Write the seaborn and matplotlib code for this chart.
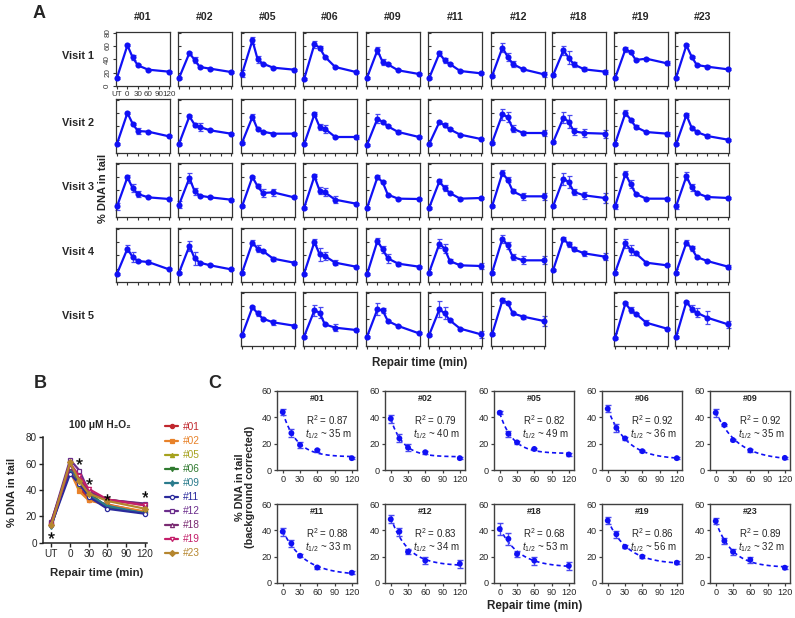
import numpy as np
import pandas as pd
import matplotlib
matplotlib.use("Agg")
import matplotlib.pyplot as plt
import seaborn as sns

# ---------------- data ----------------
SUBJECTS = ['#01', '#02', '#05', '#06', '#09', '#11', '#12', '#18', '#19', '#23']
TIME_LABELS = ['UT', '0', '15', '30', '60', '120']
TIMES = [-30, 0, 15, 30, 60, 120]          # UT is drawn at -30
AXIS_TICKS = [-30, 0, 30, 60, 90, 120]
AXIS_TICK_LABELS = ['UT', '0', '30', '60', '90', '120']

VISIT1 = {
    '#01': [12.6, 61, 43, 31, 24.5, 21.5], '#02': [12, 49.5, 39, 28.5, 26, 21],
    '#05': [18.5, 68.5, 40, 33.5, 27.5, 24.5], '#06': [10, 62.5, 57.5, 44, 28.5, 21],
    '#09': [12.5, 53.5, 36, 32.5, 23.5, 18], '#11': [11.5, 49, 38.5, 33, 22.5, 19],
    '#12': [15, 57.5, 44, 33, 25, 17.5], '#18': [16, 53.5, 42.5, 32.5, 25, 21.5],
    '#19': [11.5, 55, 51, 39, 41, 34], '#23': [12.5, 61, 44, 31.5, 29, 25]}
VISIT1_ERR = {
    '#01': [1.5, 1.5, 4, 1.5, 1.5, 1.5], '#02': [1.5, 1.5, 4, 1.5, 1.5, 1.5],
    '#05': [5, 5, 5, 1.5, 1.5, 1.5], '#06': [1.5, 5, 3, 1.5, 1.5, 1.5],
    '#09': [1.5, 5, 5, 1.5, 1.5, 1.5], '#11': [1.5, 4, 4, 1.5, 1.5, 1.5],
    '#12': [1.5, 7, 6, 4, 1.5, 4], '#18': [1.5, 7, 10, 4, 3, 3],
    '#19': [1.5, 4, 1.5, 1.5, 1.5, 3], '#23': [1.5, 1.5, 1.5, 1.5, 2.5, 1.5]}

VISIT2 = {
    '#01': [14, 60, 44, 33, 32, 25], '#02': [14, 55, 42.5, 39, 34, 29],
    '#05': [15.5, 54, 35.5, 32, 29, 29], '#06': [13, 58, 39, 36.5, 24, 24],
    '#09': [12.5, 51.5, 46.5, 40, 31.5, 24], '#11': [13, 46.5, 41.5, 35.5, 27.5, 21],
    '#12': [15.5, 58, 54, 36.5, 30, 30], '#18': [16, 53, 47, 32.5, 30, 29],
    '#19': [14, 60, 50, 39, 31.5, 29], '#23': [13, 57, 38, 31.5, 25.5, 20]}
VISIT2_ERR = {
    '#01': [1.5, 1.5, 1.5, 4, 1.5, 1.5], '#02': [1.5, 1.5, 3, 6, 1.5, 1.5],
    '#05': [1.5, 4, 1.5, 1.5, 1.5, 1.5], '#06': [1.5, 3, 4, 6, 1.5, 3],
    '#09': [1.5, 7, 1.5, 1.5, 3, 1.5], '#11': [1.5, 1.5, 3, 1.5, 1.5, 1.5],
    '#12': [1.5, 8, 7, 5, 3, 5], '#18': [1.5, 8, 10, 5, 6, 6],
    '#19': [1.5, 4, 1.5, 3, 1.5, 3], '#23': [1.5, 3, 1.5, 1.5, 3, 1.5]}

VISIT3 = {
    '#01': [16, 59.5, 43.5, 34.5, 29.5, 27], '#02': [18.5, 58.5, 38.5, 32, 29.5, 26],
    '#05': [16, 60, 46, 36, 37, 29.5], '#06': [13.5, 61, 39.5, 37, 26, 20],
    '#09': [13.5, 59.5, 52.5, 33.5, 27.5, 27], '#11': [13.5, 53.5, 43.5, 36, 27.5, 28.5],
    '#12': [16, 66, 56, 38.5, 31, 31], '#18': [16, 57.5, 52.5, 37.5, 32.5, 28.5],
    '#19': [16, 64.5, 49.5, 34.5, 27.5, 27.5], '#23': [16, 61, 44.5, 36, 30, 28.5]}
VISIT3_ERR = {
    '#01': [5, 4, 6, 4, 1.5, 1.5], '#02': [5, 7, 5, 1.5, 1.5, 1.5],
    '#05': [1.5, 1.5, 3, 6, 5, 1.5], '#06': [1.5, 4, 5, 6, 5, 1.5],
    '#09': [1.5, 3, 1.5, 1.5, 1.5, 1.5], '#11': [1.5, 4, 4, 1.5, 1.5, 1.5],
    '#12': [1.5, 5, 4, 3, 5, 5], '#18': [1.5, 9, 9, 4, 5, 7],
    '#19': [4, 4, 6, 1.5, 1.5, 1.5], '#23': [4, 6, 5, 1.5, 3, 1.5]}

VISIT4 = {
    '#01': [12.5, 50, 37.5, 31.5, 30, 19], '#02': [14, 54, 35.5, 29, 25, 19],
    '#05': [14, 59, 50, 46.5, 35, 29], '#06': [12.5, 60, 41.5, 39, 29, 23],
    '#09': [11.5, 61.5, 49, 35.5, 27.5, 23], '#11': [14, 57.5, 50, 31.5, 25, 24],
    '#12': [14, 65, 55, 37.5, 32.5, 32.5], '#18': [17.5, 65, 56.5, 49, 43, 38],
    '#19': [14, 58, 48, 43, 29, 25], '#23': [14, 59, 50.5, 37.5, 31.5, 23]}
VISIT4_ERR = {
    '#01': [1.5, 5, 8, 1.5, 3, 1.5], '#02': [1.5, 7, 10, 1.5, 1.5, 1.5],
    '#05': [1.5, 4, 5, 1.5, 3, 1.5], '#06': [1.5, 5, 10, 6, 4, 1.5],
    '#09': [1.5, 4, 5, 7, 3, 1.5], '#11': [1.5, 7, 7, 3, 1.5, 5],
    '#12': [1.5, 6, 5, 4, 6, 6], '#18': [1.5, 3, 4, 3, 4, 5],
    '#19': [1.5, 7, 8, 1.5, 1.5, 1.5], '#23': [1.5, 4, 4, 1.5, 1.5, 3]}

VISIT5 = {
    '#05': [16, 58, 49, 41, 35.5, 30.5], '#06': [14, 53.5, 50, 32.5, 27.5, 24],
    '#09': [14, 55, 53.5, 37.5, 30, 19], '#11': [16, 55, 49, 38.5, 26, 17.5],
    '#12': [17.5, 68.5, 65, 49, 44, 37.5], '#19': [11.5, 64, 54, 48.5, 35, 26],
    '#23': [13.5, 66.5, 56, 50, 42.5, 32.5]}
VISIT5_ERR = {
    '#05': [1.5, 1.5, 4, 1.5, 4, 1.5], '#06': [1.5, 8, 8, 1.5, 5, 1.5],
    '#09': [1.5, 9, 4, 1.5, 1.5, 1.5], '#11': [1.5, 12, 9, 1.5, 1.5, 5],
    '#12': [1.5, 4, 1.5, 1.5, 3, 7], '#19': [1.5, 1.5, 4, 1.5, 4, 1.5],
    '#23': [1.5, 1.5, 5, 7, 10, 5]}

VISIT_LABELS = ['Visit 1', 'Visit 2', 'Visit 3', 'Visit 4', 'Visit 5']

# panel B styling per subject
B_COLORS = ['#c0272d', '#e8822a', '#a6a21e', '#2f7a2f', '#2a7b8c',
            '#2a2a9c', '#6b2d8c', '#7a2b72', '#c41e6a', '#b5862f']
B_MARKERS = ['o', 's', '^', 'v', 'd', 'o', 's', '^', 'v', 'D']
B_FILLED = [True, True, True, True, True, False, False, False, False, True]
STAR_T = [-30, 15, 30, 60, 120]
STAR_Y = [6, 62, 47, 35, 37]

# panel C
C_TIMES = [0, 15, 30, 60, 120]
C_MEAN = {
    '#01': [44, 28, 19, 15, 9], '#02': [39, 24, 17, 13.5, 9],
    '#05': [43.5, 27.5, 21, 16, 11.8], '#06': [46.5, 32, 24, 14.3, 9],
    '#09': [43.5, 34.3, 22.7, 14.9, 9.2], '#11': [39, 30, 20.7, 11.8, 7.8],
    '#12': [48.4, 39, 23.7, 17, 14.6], '#18': [41, 33.5, 22, 17, 13],
    '#19': [47.4, 37, 27.5, 20, 15.4], '#23': [47, 32, 23.7, 17.6, 11.6]}
C_ERR = {
    '#01': [2, 3, 2.5, 1, 1], '#02': [3, 3, 2.5, 1, 1],
    '#05': [1, 2.5, 1, 1, 1], '#06': [2.5, 3, 1, 1, 1],
    '#09': [3, 1, 1, 1, 1], '#11': [3, 3, 1, 1, 1],
    '#12': [3, 3, 2, 2.5, 3], '#18': [4.5, 4.5, 2.5, 3, 3],
    '#19': [2.5, 2.5, 1, 1, 1], '#23': [2, 2.5, 2.5, 2.5, 1]}
C_R2 = ['0.87', '0.79', '0.82', '0.92', '0.92', '0.88', '0.83', '0.68', '0.86', '0.89']
C_THALF = ['35', '40', '49', '36', '35', '33', '34', '53', '56', '32']

# ---------------- style ----------------
sns.set_style('ticks')
plt.rcParams['font.family'] = ['Liberation Sans', 'DejaVu Sans']
plt.rcParams['mathtext.fontset'] = 'custom'
plt.rcParams['mathtext.rm'] = 'Liberation Sans'
plt.rcParams['mathtext.it'] = 'Liberation Sans:italic'
plt.rcParams['mathtext.bf'] = 'Liberation Sans:bold'

BLUE = '#1010f5'
EBLUE = '#4a4af0'
SPINE = '#333333'

W, H = 795, 618
fig = plt.figure(figsize=(W / 100, H / 100), dpi=100)
fig.patch.set_facecolor('white')


def add_ax(l, t, w, h):
    return fig.add_axes([l / W, 1 - (t + h) / H, w / W, h / H])


def ftext(x, y, s, **kw):
    fig.text(x / W, 1 - y / H, s, **kw)


# ---------------- Panel A ----------------
A_COL_LEFT = [116, 178, 241, 303, 366, 428, 491, 552, 614, 675]
A_ROW_TOP = [32, 99, 163, 228, 292]
A_W, A_H = 54, 54
visits = [(VISIT1, VISIT1_ERR), (VISIT2, VISIT2_ERR), (VISIT3, VISIT3_ERR),
          (VISIT4, VISIT4_ERR), (VISIT5, VISIT5_ERR)]

for r, (vm, ve) in enumerate(visits):
    for c, s in enumerate(SUBJECTS):
        if s not in vm:
            continue
        ax = add_ax(A_COL_LEFT[c], A_ROW_TOP[r], A_W, A_H)
        df = pd.DataFrame({'t': TIMES, 'v': vm[s]})
        ax.errorbar(TIMES, vm[s], yerr=ve[s], fmt='none', ecolor=EBLUE,
                    elinewidth=0.9, capsize=1.8, capthick=0.9, zorder=2, clip_on=False)
        sns.lineplot(data=df, x='t', y='v', ax=ax, color=BLUE, lw=1.6,
                     marker='o', markersize=4.4, markeredgewidth=0, zorder=3,
                     clip_on=False)
        ax.set_xlim(-33, 123)
        ax.set_ylim(0, 81)
        ax.set(xlabel='', ylabel='')
        ax.set_xticks(AXIS_TICKS)
        ax.set_yticks([0, 20, 40, 60, 80])
        for sp in ax.spines.values():
            sp.set_visible(True)
            sp.set_color(SPINE)
            sp.set_linewidth(0.9)
        ax.tick_params(axis='x', direction='out', length=2.5, width=0.8, color=SPINE, pad=1)
        ax.tick_params(axis='y', direction='in', length=2.5, width=0.8, color=SPINE, pad=1)
        if r == 0 and c == 0:
            ax.set_xticklabels(AXIS_TICK_LABELS, fontsize=5.8, color='#333333')
            ax.set_yticklabels(['0', '20', '40', '60', '80'], fontsize=5.8,
                               color='#333333', rotation=90, va='center')
            ax.tick_params(axis='y', direction='out')
        else:
            ax.set_xticklabels([])
            ax.set_yticklabels([])
        if r == 0:
            ftext(A_COL_LEFT[c] + A_W / 2, 17, s, ha='center', va='center',
                  fontsize=7.6, fontweight='bold')

for r, lab in enumerate(VISIT_LABELS):
    ftext(78, A_ROW_TOP[r] + A_H / 2 - 3, lab, ha='center', va='center',
          fontsize=7.8, fontweight='bold')

ftext(39, 13, 'A', ha='center', va='center', fontsize=13, fontweight='bold')
ftext(103, 188, '% DNA in tail', ha='center', va='center', rotation=90,
      fontsize=8, fontweight='bold')
ftext(420, 363, 'Repair time (min)', ha='center', va='center',
      fontsize=8.4, fontweight='bold')

# ---------------- Panel B ----------------
rows = []
for vi, (vm, _) in enumerate(visits, 1):
    for s, vals in vm.items():
        for t, v in zip(TIMES, vals):
            rows.append({'subject': s, 'visit': vi, 't': t, 'v': v})
dfA = pd.DataFrame(rows)

axB = add_ax(43.3, 437.3, 103.4, 105.4)
for s, col, mk, filled in zip(SUBJECTS, B_COLORS, B_MARKERS, B_FILLED):
    sns.lineplot(data=dfA[dfA.subject == s], x='t', y='v', estimator='mean',
                 errorbar=None, ax=axB, color=col, lw=1.6, marker=mk,
                 markersize=3.0, markeredgecolor=col, markeredgewidth=0.9,
                 markerfacecolor=col if filled else 'white', label=s,
                 clip_on=False)
axB.set_xlim(-43, 123)
axB.set_ylim(0, 80)
axB.set_xticks(AXIS_TICKS)
axB.set_xticklabels(AXIS_TICK_LABELS)
axB.set_yticks([0, 20, 40, 60, 80])
axB.set(xlabel='', ylabel='')
sns.despine(ax=axB)
for sp in ['left', 'bottom']:
    axB.spines[sp].set_linewidth(1.1)
    axB.spines[sp].set_color('#222222')
axB.tick_params(direction='out', length=3, width=1.0, labelsize=7.2, pad=1.5,
                color='#222222')
axB.scatter(STAR_T, STAR_Y, marker='$*$', s=20, color='black', linewidths=0.2, zorder=5)

handles, labels = axB.get_legend_handles_labels()
leg = axB.legend(handles, labels, loc='upper left',
                 bbox_to_anchor=(165 / W, 1 - 422 / H),
                 bbox_transform=fig.transFigure, frameon=False,
                 fontsize=7.3, labelcolor='linecolor', handlelength=1.3,
                 handletextpad=0.45, labelspacing=0.4, borderpad=0,
                 borderaxespad=0)

ftext(40, 384, 'B', ha='center', va='center', fontsize=13, fontweight='bold')
ftext(100, 425, '100 μM H₂O₂', ha='center', va='center', fontsize=7.4,
      fontweight='bold')
ftext(12, 492, '% DNA in tail', ha='center', va='center', rotation=90,
      fontsize=8, fontweight='bold')
ftext(97, 573, 'Repair time (min)', ha='center', va='center', fontsize=8.2,
      fontweight='bold')


# ---------------- Panel C ----------------
def decay_fit(t, y):
    t = np.asarray(t, float)
    y = np.asarray(y, float)
    best = None
    for k in np.linspace(0.004, 0.25, 500):
        X = np.column_stack([np.ones_like(t), np.exp(-k * t)])
        coef, *_ = np.linalg.lstsq(X, y, rcond=None)
        sse = ((X @ coef - y) ** 2).sum()
        if best is None or sse < best[0]:
            best = (sse, k, coef)
    return best[1], best[2]


C_LEFT = [277, 385, 494, 602, 710]
C_TOP = [391, 504]
C_W, C_H = 80, 79
for i, s in enumerate(SUBJECTS):
    ax = add_ax(C_LEFT[i % 5], C_TOP[i // 5], C_W, C_H)
    k, (p, a) = decay_fit(C_TIMES, C_MEAN[s])
    tt = np.linspace(0, 120, 200)
    ax.plot(tt, p + a * np.exp(-k * tt), color=BLUE, lw=1.2, ls=(0, (2.5, 1.8)),
            zorder=1)
    ax.errorbar(C_TIMES, C_MEAN[s], yerr=C_ERR[s], fmt='none', ecolor=EBLUE,
                elinewidth=1.0, capsize=2.2, capthick=1.0, zorder=2)
    dfc = pd.DataFrame({'t': C_TIMES, 'v': C_MEAN[s]})
    sns.scatterplot(data=dfc, x='t', y='v', ax=ax, color=BLUE, s=18,
                    edgecolor='none', zorder=3)
    ax.set_xlim(-10, 129)
    ax.set_ylim(0, 60)
    ax.set_xticks([0, 30, 60, 90, 120])
    ax.set_yticks([0, 20, 40, 60])
    ax.set(xlabel='', ylabel='')
    for sp in ax.spines.values():
        sp.set_visible(True)
        sp.set_color('#404040')
        sp.set_linewidth(1.0)
    ax.tick_params(direction='out', length=2.5, width=0.9, labelsize=6.6, pad=1,
                   color='#404040')
    ax.text(0.5, 0.9, s, transform=ax.transAxes, ha='center', va='center',
            fontsize=6.4, fontweight='bold')
    ax.text(0.63, 0.63, 'R$^2$ = ' + C_R2[i], transform=ax.transAxes,
            ha='center', va='center', fontsize=7.0)
    ax.text(0.64, 0.455, '$t_{1/2}$ ~ ' + C_THALF[i] + ' m', transform=ax.transAxes,
            ha='center', va='center', fontsize=7.0)

ftext(215, 384, 'C', ha='center', va='center', fontsize=13, fontweight='bold')
ftext(245, 487, '% DNA in tail\n(background corrected)', ha='center', va='center',
      rotation=90, multialignment='center', fontsize=7.8, fontweight='bold',
      linespacing=1.1)
ftext(535, 606, 'Repair time (min)', ha='center', va='center', fontsize=8.4,
      fontweight='bold')

fig.savefig('out.png', dpi=100, facecolor='white')
